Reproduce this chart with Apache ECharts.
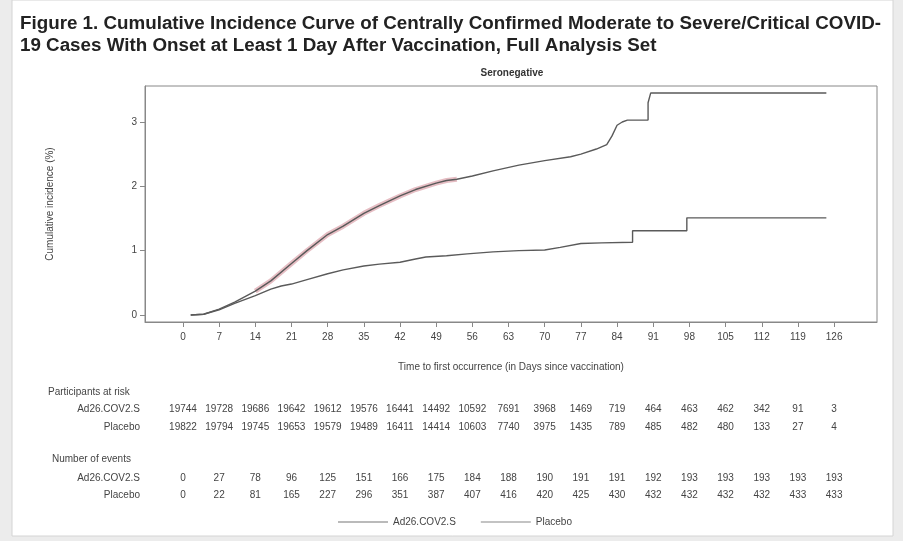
<!DOCTYPE html>
<html>
<head>
<meta charset="utf-8">
<script src="https://cdn.jsdelivr.net/npm/echarts@6/dist/echarts.min.js"></script>
<style>
html,body{margin:0;padding:0;background:#ececec;}
#c{width:903px;height:541px;}
</style>
</head>
<body>
<div id="c"></div>
<script>
const titleLines = ["Figure 1. Cumulative Incidence Curve of Centrally Confirmed Moderate to Severe/Critical COVID-", "19 Cases With Onset at Least 1 Day After Vaccination, Full Analysis Set"];
const panelTitle = "Seronegative";
const seriesNames = ["Ad26.COV2.S", "Placebo"];
const xTicks = [0,7,14,21,28,35,42,49,56,63,70,77,84,91,98,105,112,119,126];
const yTicks = [0,1,2,3];

const ad26Curve = [[1.5,0],[4,0.01],[7,0.08],[10,0.18],[14,0.3],[17,0.4],[19,0.45],[21,0.48],[24,0.55],[28,0.64],[31,0.7],[35,0.76],[38,0.79],[42,0.82],[45,0.87],[47,0.9],[51,0.92],[55,0.95],[60,0.98],[65,1.0],[70,1.01],[73,1.05],[77,1.11],[81,1.12],[87,1.13],[87,1.31],[97.5,1.31],[97.5,1.51],[124.5,1.51]];
const placeboCurve = [[1.5,0],[4,0.01],[7,0.09],[10,0.2],[14,0.37],[17,0.53],[21,0.8],[24,1.0],[28,1.25],[31,1.38],[35,1.58],[38,1.7],[42,1.85],[45,1.95],[49,2.05],[51,2.09],[53,2.11],[56,2.16],[60,2.24],[65,2.33],[70,2.4],[75,2.46],[77,2.5],[80,2.58],[82,2.65],[83,2.78],[84,2.95],[85,3.0],[86,3.03],[90,3.03],[90,3.3],[90.5,3.45],[124.5,3.45]];

const ad26AtRisk = [19744,19728,19686,19642,19612,19576,16441,14492,10592,7691,3968,1469,719,464,463,462,342,91,3];
const placeboAtRisk = [19822,19794,19745,19653,19579,19489,16411,14414,10603,7740,3975,1435,789,485,482,480,133,27,4];
const ad26Events = [0,27,78,96,125,151,166,175,184,188,190,191,191,192,193,193,193,193,193];
const placeboEvents = [0,22,81,165,227,296,351,387,407,416,420,425,430,432,432,432,432,433,433];

const tableRows = [
  {top: 409, values: ad26AtRisk, label: seriesNames[0]},
  {top: 427, values: placeboAtRisk, label: seriesNames[1]},
  {top: 478, values: ad26Events, label: seriesNames[0]},
  {top: 495, values: placeboEvents, label: seriesNames[1]}
];

const XMIN = -7.35, XMAX = 134.3;
const FONT = "Liberation Sans, Arial, sans-serif";

const grids = [{left:145, right:26, top:86, bottom:219, show:true, borderColor:'#888', borderWidth:1, backgroundColor:'#fff'}];
const xAxes = [{
  type:'value', min:XMIN, max:XMAX, gridIndex:0,
  name:"Time to first occurrence (in Days since vaccination)", nameLocation:'middle', nameGap:40,
  nameTextStyle:{fontSize:10, color:'#444', fontFamily:FONT},
  splitLine:{show:false},
  axisLine:{onZero:false, lineStyle:{color:'#888'}},
  axisTick:{show:true, length:5, lineStyle:{color:'#888'}, customValues:xTicks},
  axisLabel:{fontSize:10, color:'#444', fontFamily:FONT, margin:10, customValues:xTicks}
}];
const yAxes = [{
  type:'value', min:-0.11, max:3.56, gridIndex:0,
  name:"Cumulative incidence (%)", nameLocation:'middle', nameGap:90, nameRotate:90,
  nameTextStyle:{fontSize:10, color:'#444', fontFamily:FONT},
  splitLine:{show:false},
  axisLine:{show:true, onZero:false, lineStyle:{color:'#888'}},
  axisTick:{show:true, length:5, lineStyle:{color:'#888'}, customValues:yTicks},
  axisLabel:{fontSize:10, color:'#444', fontFamily:FONT, margin:8, customValues:yTicks}
}];
tableRows.forEach((r, i) => {
  grids.push({left:145, right:26, top:r.top - 1, height:1, show:false});
  xAxes.push({
    type:'value', min:XMIN, max:XMAX, gridIndex:i+1,
    axisLine:{show:false}, axisTick:{show:false}, splitLine:{show:false},
    axisLabel:{fontSize:10, color:'#444', fontFamily:FONT, margin:0, verticalAlign:'middle',
      customValues:xTicks, formatter:(v) => { const k = xTicks.indexOf(Math.round(v)); return k >= 0 ? String(r.values[k]) : ''; }}
  });
  yAxes.push({type:'value', gridIndex:i+1, show:false});
});

const graphics = [
  {type:'rect', shape:{x:12, y:0, width:881, height:536}, style:{fill:'#fff', stroke:'#d4d4d4', lineWidth:1}, z:-10, silent:true},
  {type:'text', left:48, top:387, style:{text:'Participants at risk', fontSize:10, fill:'#444', fontFamily:FONT}},
  {type:'text', left:52, top:454, style:{text:'Number of events', fontSize:10, fill:'#444', fontFamily:FONT}}
];
tableRows.forEach(r => {
  graphics.push({type:'text', x:140, y:r.top, style:{text:r.label, fontSize:10, fill:'#444', fontFamily:FONT, align:'right', verticalAlign:'middle'}});
});

const chart = echarts.init(document.getElementById('c'), null, {renderer:'canvas'});
chart.setOption({
  backgroundColor:'transparent',
  animation:false,
  title:[
    {text:titleLines.join('\n'), left:20, top:13, padding:0, textStyle:{fontSize:18.8, fontWeight:'bold', color:'#222', fontFamily:FONT, lineHeight:22}},
    {text:panelTitle, left:512, top:68, padding:0, textAlign:'center', textStyle:{fontSize:10, fontWeight:'bold', color:'#333', fontFamily:FONT}}
  ],
  grid:grids,
  xAxis:xAxes,
  yAxis:yAxes,
  legend:{
    data:seriesNames, left:333, top:512, itemWidth:50, itemHeight:10, itemGap:25,
    icon:'path://M0,5L50,5L50,6L0,6Z',
    textStyle:{fontSize:10, color:'#444', fontFamily:FONT}
  },
  graphic:graphics,
  series:[
    {name:'placebo-highlight', type:'line', data:placeboCurve.filter(p => p[0] >= 12 && p[0] <= 54), symbol:'none',
      lineStyle:{width:5, color:'rgba(200,110,125,0.45)'}, xAxisIndex:0, yAxisIndex:0, silent:true, z:1},
    {name:seriesNames[0], type:'line', data:ad26Curve, symbol:'none', itemStyle:{color:'#777'},
      lineStyle:{width:1.4, color:'#5a5a5a'}, xAxisIndex:0, yAxisIndex:0, z:3},
    {name:seriesNames[1], type:'line', data:placeboCurve, symbol:'none', itemStyle:{color:'#888'},
      lineStyle:{width:1.4, color:'#5a5a5a'}, xAxisIndex:0, yAxisIndex:0, z:3}
  ]
});
</script>
</body>
</html>
